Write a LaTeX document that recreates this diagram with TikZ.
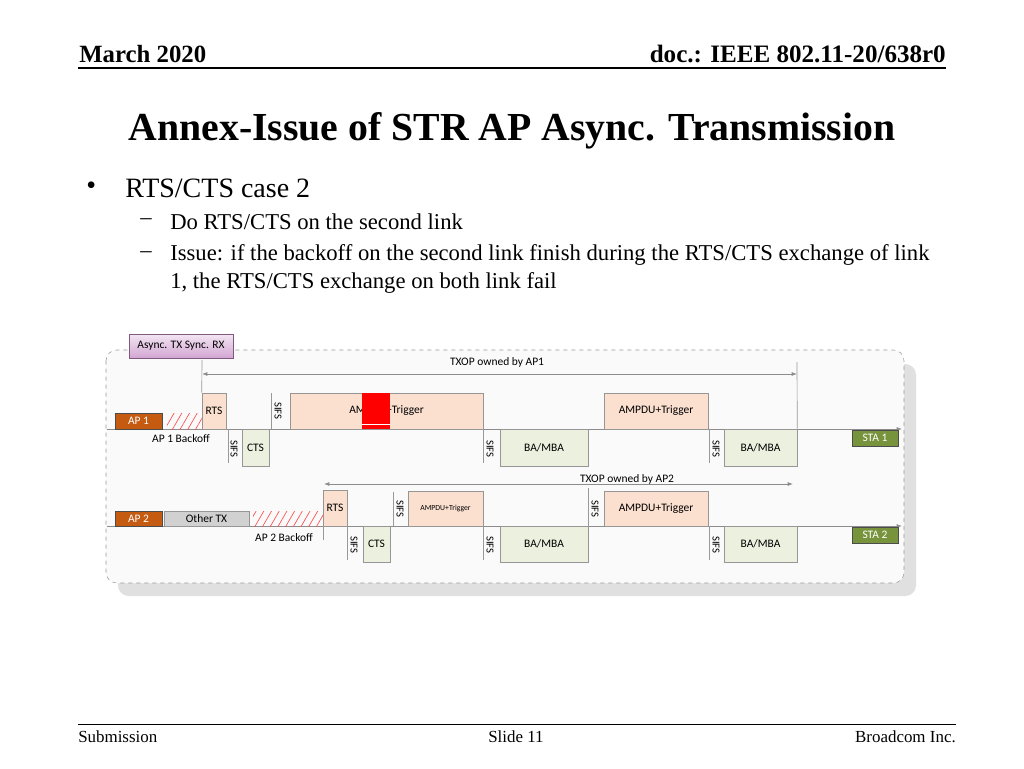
\documentclass[tikz,border=0pt]{standalone}
\usepackage{fontspec}
\setmainfont{Liberation Serif}
\newfontfamily\dg{Carlito}
\usetikzlibrary{fit,patterns.meta,arrows.meta}
\definecolor{orf}{RGB}{251,224,208}
\definecolor{grf}{RGB}{235,241,222}
\definecolor{apc}{RGB}{197,90,17}
\definecolor{stac}{RGB}{119,147,60}
\definecolor{bxd}{RGB}{150,150,150}
\newcommand{\mybx}[6]{\node[bx,#1,fit={(#3)(#4)}] (#2) {}; \node[dt,text=#6] at (#2.center) {#5};}
\begin{document}
\begin{tikzpicture}[x=0.75pt,y=-0.75pt,
 bx/.style={draw=bxd,inner sep=0pt},
 obx/.style={fill=orf},
 gbx/.style={fill=grf},
 lbl/.style={draw=black!70,fill=apc},
 sta/.style={draw=black!70,fill=stac},
 sifs/.style={font=\dg\fontsize{8}{9}\selectfont,rotate=-90,inner sep=1pt},
 vl/.style={draw=gray!80,line width=0.5pt},
 tl/.style={draw=gray!90,line width=0.6pt,-{Latex[length=4pt,width=3pt]}},
 dt/.style={font=\dg\fontsize{8.6}{9}\selectfont,inner sep=1pt},
 hatch/.style={pattern={Lines[angle=60,distance=5pt,line width=0.5pt]},pattern color=red!70}]
\useasboundingbox (0,0) rectangle (1024,768);
% header
\node[anchor=west,font=\bfseries\fontsize{18.6}{20}\selectfont,inner sep=0] (h1) at (79,54) {March 2020};
\node[anchor=east,font=\bfseries\fontsize{18.8}{20}\selectfont,inner sep=0] (h2) at (946,54) {doc.: IEEE 802.11-20/638r0};
\draw[line width=0.8pt] (78,68) -- (946,68);
\node[font=\bfseries\fontsize{29.8}{32}\selectfont,inner sep=0] (title) at (512,131) {Annex-Issue of STR AP Async. Transmission};
\node[anchor=west,font=\fontsize{21}{23}\selectfont,inner sep=0] (b0) at (86,188) {•};
\node[anchor=west,font=\fontsize{21}{23}\selectfont,inner sep=0] (b1) at (125,188) {RTS/CTS case 2};
\node[anchor=west,font=\fontsize{17}{19}\selectfont,inner sep=0] (d1) at (140,222) {–};
\node[anchor=west,font=\fontsize{17}{19}\selectfont,inner sep=0] (s1) at (170,222) {Do RTS/CTS on the second link};
\node[anchor=west,font=\fontsize{17}{19}\selectfont,inner sep=0] (d2) at (140,255) {–};
\node[anchor=west,font=\fontsize{17}{19}\selectfont,inner sep=0] (s2) at (170,255) {Issue: if the backoff on the second link finish during the RTS/CTS exchange of link};
\node[anchor=west,font=\fontsize{17}{19}\selectfont,inner sep=0] (s3) at (170,283) {1, the RTS/CTS exchange on both link fail};
% footer
\draw[line width=0.6pt] (78,724) -- (956,724);
\node[anchor=west,font=\fontsize{12.7}{14}\selectfont,inner sep=0] (f1) at (78,737) {Submission};
\node[font=\fontsize{12.7}{14}\selectfont,inner sep=0] (f2) at (516,737) {Slide 11};
\node[anchor=east,font=\fontsize{12.7}{14}\selectfont,inner sep=0] (f3) at (956,737) {Broadcom Inc.};
% diagram frame
\fill[black!12,rounded corners=8pt] (118,364) rectangle (916,596);
\draw[dashed,draw=gray!80,fill=black!2,rounded corners=8pt,line width=0.4pt] (106,350) rectangle (904,583);
\node[bx,draw=gray!70!violet,top color=violet!10,bottom color=violet!35,fit={(129,334)(233,358)}] (async) {};
\node[dt] at (async.center) {Async. TX Sync. RX};
% AP1 timeline
\coordinate (l1s) at (107,429); \coordinate (l1e) at (902,429);
\draw[tl] (l1s) -- (l1e);
\mybx{lbl}{ap1}{115,413}{162,429}{AP 1}{white}
\fill[hatch] (167,413) rectangle (202,429);
\node[dt] (bo1) at (181,439) {AP 1 Backoff};
\mybx{obx}{rts1}{202,393}{226,429}{RTS}{black}
\mybx{obx}{amp1}{290,393}{483,429}{AMPDU+Trigger}{black}
\fill[red] (362,393) rectangle (390,429);
\draw[white,line width=0.6pt] (362,424) -- (390,424);
\mybx{obx}{amp2}{604,393}{708,429}{AMPDU+Trigger}{black}
\draw[vl] (271,393) -- (271,429); \node[sifs] (sf1) at (278,411) {SIFS};
\draw[vl] (228,429) -- (228,463); \node[sifs] (sf2) at (234,449) {SIFS};
\mybx{gbx}{cts1}{242,429}{269,466}{CTS}{black}
\draw[vl] (483,429) -- (483,463); \node[sifs] (sf3) at (490,449) {SIFS};
\mybx{gbx}{ba1}{500,429}{588,466}{BA/MBA}{black}
\draw[vl] (709,429) -- (709,463); \node[sifs] (sf4) at (716,449) {SIFS};
\mybx{gbx}{ba2}{724,429}{797,466}{BA/MBA}{black}
\mybx{sta}{sta1}{852,430}{898,446}{STA 1}{white}
\coordinate (t1a) at (202,374); \coordinate (t1b) at (797,374);
\draw[vl] (202,360) -- (rts1.north west);
\draw[vl] (797,362) -- (ba2.north east);
\draw[draw=gray!90,line width=0.6pt,{Latex[length=4pt,width=3pt]}-{Latex[length=4pt,width=3pt]}] (t1a) -- (t1b);
\node[dt] (tx1) at (497,362) {TXOP owned by AP1};
% AP2 timeline
\coordinate (l2s) at (107,526); \coordinate (l2e) at (902,526);
\draw[tl] (l2s) -- (l2e);
\mybx{lbl}{ap2}{115,511}{162,526}{AP 2}{white}
\mybx{fill=black!18}{oth}{164,511}{249,526}{Other TX}{black}
\fill[hatch] (253,511) rectangle (323,526);
\node[dt] (bo2) at (284,538) {AP 2 Backoff};
\mybx{obx}{rts2}{323,490}{347,526}{RTS}{black}
\draw[vl] (393,492) -- (393,526); \node[sifs] (sf5) at (400,509) {SIFS};
\node[bx,obx,fit={(408,491)(483,526)}] (amp3) {};
\node[font=\dg\fontsize{5.8}{6}\selectfont] at (amp3.center) {AMPDU+Trigger};
\draw[vl] (588,488) -- (588,526); \node[sifs] (sf6) at (595,509) {SIFS};
\mybx{obx}{amp4}{604,491}{708,526}{AMPDU+Trigger}{black}
\draw[vl] (323,526) -- (323,540);
\draw[vl] (347,526) -- (347,560); \node[sifs] (sf7) at (354,545) {SIFS};
\mybx{gbx}{cts2}{363,526}{390,562}{CTS}{black}
\draw[vl] (483,526) -- (483,560); \node[sifs] (sf8) at (490,545) {SIFS};
\mybx{gbx}{ba3}{500,526}{588,562}{BA/MBA}{black}
\draw[vl] (709,526) -- (709,560); \node[sifs] (sf9) at (716,545) {SIFS};
\mybx{gbx}{ba4}{724,526}{797,562}{BA/MBA}{black}
\mybx{sta}{sta2}{852,527}{898,543}{STA 2}{white}
\coordinate (t2a) at (324,484); \coordinate (t2b) at (793,484);
\draw[draw=gray!90,line width=0.6pt,{Latex[length=4pt,width=3pt]}-{Latex[length=4pt,width=3pt]}] (t2a) -- (t2b);
\node[dt] (tx2) at (627,479) {TXOP owned by AP2};
\end{tikzpicture}
\end{document}
